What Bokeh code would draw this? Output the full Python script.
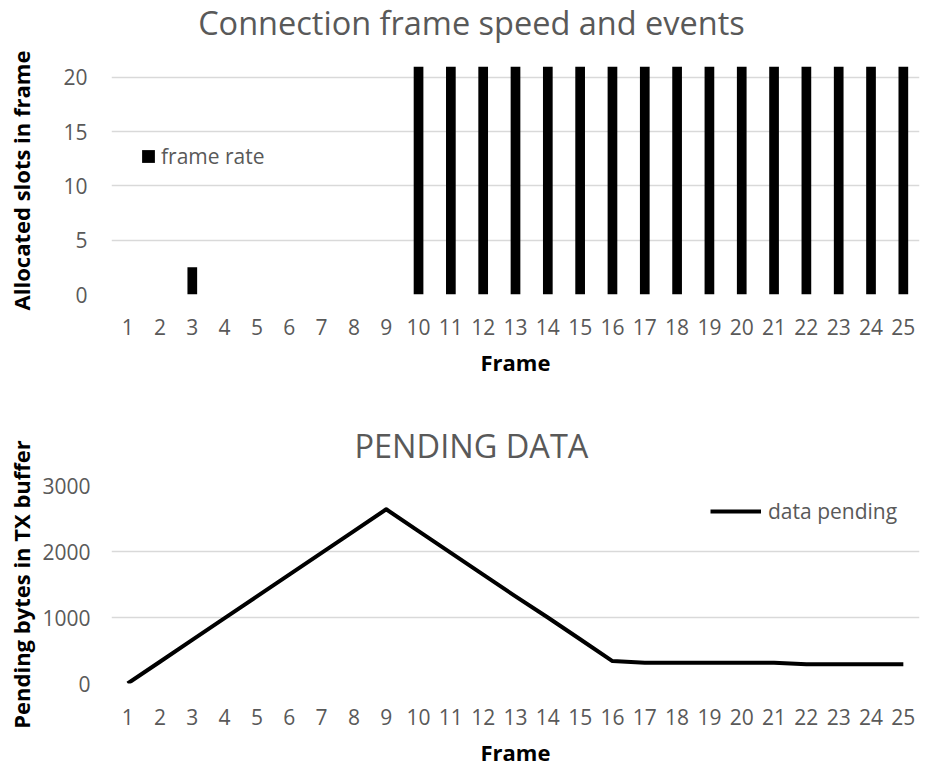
from bokeh.plotting import figure
from bokeh.layouts import column
from bokeh.models import FactorRange, Range1d, FixedTicker, Title
from bokeh.core.properties import value
from bokeh.embed import file_html
from bokeh.resources import INLINE

frames = [str(i) for i in range(1, 26)]
frame_rate = [0, 0, 2.5, 0, 0, 0, 0, 0, 0,
              21, 21, 21, 21, 21, 21, 21, 21, 21, 21, 21, 21, 21, 21, 21, 21]
pending = [0, 330, 660, 990, 1320, 1650, 1980, 2310, 2640,
           2310, 1980, 1650, 1320, 1000, 670, 340,
           315, 315, 315, 315, 315, 290, 290, 290, 290]
top_ticks = [0, 5, 10, 15, 20]
bottom_ticks = [0, 1000, 2000, 3000]
top_title = "Connection frame speed and events"
bottom_title = "PENDING DATA"

FONT = "Open Sans"
GRAY = "#595959"
GRID = "#d9d9d9"
W = 926
LEFT, RIGHT = 111, 7


def style(p, ticks, xlab, ylab, x_so, x_lso, y_so, y_lso):
    p.outline_line_color = None
    p.xgrid.grid_line_color = None
    p.ygrid.grid_line_color = GRID
    p.ygrid.grid_line_width = 1.5
    p.yaxis.ticker = FixedTicker(ticks=ticks)
    p.xaxis.axis_label = xlab
    p.yaxis.axis_label = ylab
    for ax in (p.xaxis[0], p.yaxis[0]):
        ax.axis_line_color = None
        ax.major_tick_line_color = None
        ax.minor_tick_line_color = None
        ax.major_tick_out = 0
        ax.major_tick_in = 0
        ax.major_label_text_font = FONT
        ax.major_label_text_font_size = "21px"
        ax.major_label_text_color = GRAY
        ax.axis_label_text_font = FONT
        ax.axis_label_text_font_size = "22px"
        ax.axis_label_text_font_style = "bold"
        ax.axis_label_text_color = "black"
    p.xaxis.major_label_standoff = x_so
    p.xaxis.axis_label_standoff = x_lso
    p.yaxis.major_label_standoff = y_so
    p.yaxis.axis_label_standoff = y_lso
    leg = p.legend[0]
    leg.border_line_color = None
    leg.background_fill_alpha = 0
    leg.padding = 0
    leg.margin = 0
    leg.spacing = 0
    leg.label_text_font = FONT
    leg.label_text_font_size = "21px"
    leg.label_text_color = GRAY


# ---- title strip of the top chart ----
p0 = figure(width=W, height=44, x_range=Range1d(LEFT, W - RIGHT), y_range=Range1d(0, 44),
            output_backend="svg", toolbar_location=None,
            x_axis_location=None, y_axis_location=None,
            min_border_left=LEFT, min_border_right=RIGHT, min_border_top=0, min_border_bottom=0)
p0.outline_line_color = None
p0.grid.visible = False
p0.text(x=[471], y=[22.5], text=[top_title], text_font=value(FONT), text_font_size="32.5px",
        text_color=GRAY, text_align="center", text_baseline="middle")

# ---- top chart ----
p1 = figure(width=W, height=354, x_range=FactorRange(*frames), y_range=Range1d(0, 21),
            output_backend="svg", toolbar_location=None,
            min_border_left=LEFT, min_border_right=RIGHT, min_border_top=22, min_border_bottom=104)
p1.vbar(x=frames, top=frame_rate, width=0.3, color="black", line_color=None,
        legend_label="frame rate")
style(p1, top_ticks, "Frame", "Allocated slots in frame", 24, 9, 24, 24)
p1.legend.location = (29, 124)
p1.legend.glyph_width = 16
p1.legend.glyph_height = 16
p1.legend.label_standoff = 5

# ---- bottom chart ----
p2 = figure(width=W, height=371, x_range=FactorRange(*frames), y_range=Range1d(0, 3000),
            output_backend="svg", toolbar_location=None,
            min_border_left=LEFT, min_border_right=RIGHT, min_border_top=87, min_border_bottom=85)
p2.line(x=frames, y=pending, line_width=4, color="black", line_join="round",
        legend_label="data pending")
style(p2, bottom_ticks, "Frame", "Pending bytes in TX buffer", 25, 9, 21, 3)
p2.add_layout(Title(text=bottom_title, align="left", offset=243, standoff=32,
                    vertical_align="top", text_font=FONT, text_font_size="32.5px",
                    text_font_style="normal", text_color=GRAY), "above")
p2.legend.location = (599, 158)
p2.legend.glyph_width = 51
p2.legend.glyph_height = 20
p2.legend.label_standoff = 7

layout = column(p0, p1, p2)
open("out.html", "w").write(file_html(layout, INLINE))
